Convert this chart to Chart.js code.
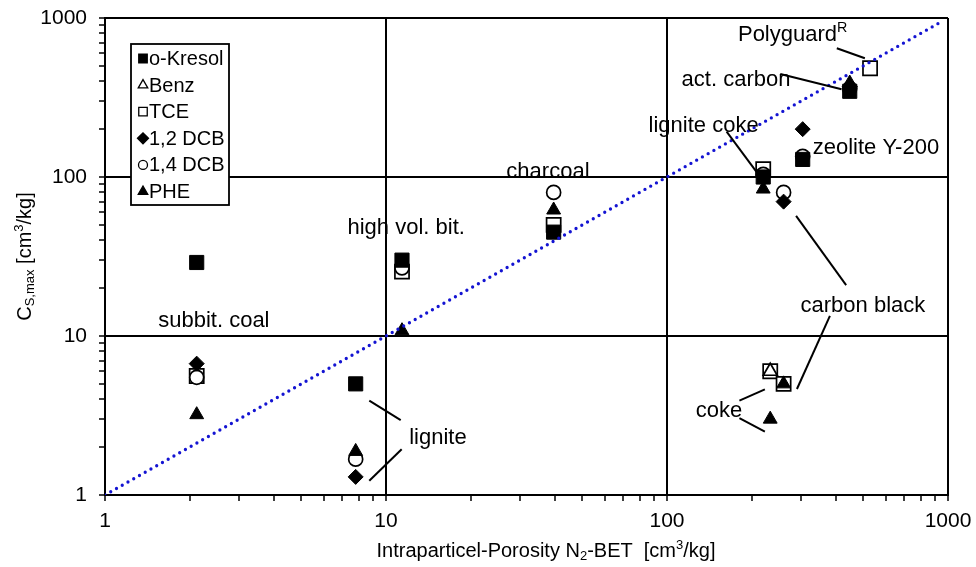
<!DOCTYPE html>
<html>
<head>
<meta charset="utf-8">
<script src="https://cdn.jsdelivr.net/npm/chart.js@4"></script>
<style>
  html, body { margin: 0; padding: 0; background: #fff; }
  canvas { display: block; }
</style>
</head>
<body>
<canvas id="chart" width="976" height="567"></canvas>
<script>
// Sorbent materials and their intraparticle porosity (N2-BET, cm3/kg)
const materials = ['subbit. coal', 'lignite', 'high vol. bit.', 'charcoal', 'lignite coke',
                   'coke', 'carbon black', 'zeolite Y-200', 'act. carbon', 'Polyguard'];
const porosity  = [2.12, 7.8, 11.4, 39.5, 220, 233, 260, 304, 447, 528];

// Maximum sorption capacity C_S,max (cm3/kg) per sorbate, aligned with materials
const oKresol = [29,   5.0,  30,   45,  100,  null, null, 129,  346,  null];
const benz    = [null, null, null, null, null, 6.0,  null, null, null, null];
const tce     = [5.6,  null, 25.4, 50,  112,  6.0,  5.0,  null, null, 483];
const dcb12   = [6.7,  1.3,  null, null, null, null, 70,   200,  370,  null];
const dcb14   = [5.5,  1.68, 26.8, 80,  104,  null, 80,   135,  360,  null];
const phe     = [3.2,  1.88, 10.8, 62,  84,   3.0,  5.0,  null, 390,  null];

// 1:1 reference line end points (x = y)
const parityLine = [1, 960];

// Decade tick labels shared by both log axes
const axisTicks = [1, 10, 100, 1000];

const FONT = '"Liberation Sans", Arial, Helvetica, sans-serif';

function toPoints(values) {
  const pts = [];
  materials.forEach((m, i) => {
    if (values[i] !== null) pts.push({ x: porosity[i], y: values[i] });
  });
  return pts;
}

function isDecade(v) {
  if (!(v > 0)) return false;
  const l = Math.log10(v);
  return Math.abs(l - Math.round(l)) < 1e-9;
}

// minor ticks 1..9 in every decade
function logTicks() {
  const out = [];
  for (let d = 0; d < axisTicks.length - 1; d++) {
    for (let m = 1; m <= 9; m++) out.push(axisTicks[d] * m);
  }
  out.push(axisTicks[axisTicks.length - 1]);
  return out.map(v => ({ value: v, major: isDecade(v) }));
}

const marker = (label, values, style, filled, radius, order) => ({
  label,
  data: toPoints(values),
  pointStyle: style,
  pointRadius: radius,
  pointHoverRadius: radius,
  pointBackgroundColor: filled ? '#000' : '#fff',
  pointBorderColor: '#000',
  pointBorderWidth: filled ? 1 : 1.7,
  showLine: false,
  order,
  legendMarker: true
});

const datasets = [
  marker('o-Kresol', oKresol, 'rect', true, 10, 2),
  marker('Benz', benz, 'triangle', false, 8, 1),
  marker('TCE', tce, 'rect', false, 10, 5),
  marker('1,2 DCB', dcb12, 'rectRot', true, 7.5, 3),
  marker('1,4 DCB', dcb14, 'circle', false, 7, 4),
  marker('PHE', phe, 'triangle', true, 8, 0),
  {
    label: '1:1',
    data: parityLine.map(v => ({ x: v, y: v })),
    showLine: true,
    borderColor: '#1414d2',
    borderWidth: 3.3,
    borderDash: [0, 6.6],
    borderCapStyle: 'round',
    pointRadius: 0,
    pointHoverRadius: 0,
    fill: false,
    order: -1,
    legendMarker: false
  }
];

// Material labels (data coordinates)
const labelTexts = [
  { parts: [{ t: 'subbit. coal' }], x: 2.44, y: 12.4 },
  { parts: [{ t: 'high vol. bit.' }], x: 11.8, y: 47.8 },
  { parts: [{ t: 'charcoal' }], x: 37.7, y: 107 },
  { parts: [{ t: 'lignite' }], x: 15.3, y: 2.28 },
  { parts: [{ t: 'lignite coke' }], x: 135, y: 209 },
  { parts: [{ t: 'act. carbon' }], x: 176, y: 407 },
  { parts: [{ t: 'Polyguard' }, { t: 'R', sup: true }], x: 280, y: 782 },
  { parts: [{ t: 'zeolite Y-200' }], x: 554, y: 152 },
  { parts: [{ t: 'carbon black' }], x: 498, y: 15.4 },
  { parts: [{ t: 'coke' }], x: 153, y: 3.38 }
];

// Leader lines from labels to their points (data coordinates)
const leaderLines = [
  [[8.72, 3.92], [11.28, 2.96]],
  [[8.72, 1.23], [11.37, 1.94]],
  [[163, 193], [214, 101]],
  [[253, 444], [418, 356]],
  [[402, 645], [506, 558]],
  [[288, 56.9], [434, 20.9]],
  [[380, 13.4], [290, 4.64]],
  [[181, 3.92], [223, 4.62]],
  [[181, 3.04], [223, 2.50]]
];

function richWidth(ctx, parts, size) {
  let w = 0;
  parts.forEach(p => {
    const s = (p.sub || p.sup) ? size * 0.65 : size;
    ctx.font = s + 'px ' + FONT;
    w += ctx.measureText(p.t).width;
  });
  return w;
}

function drawRich(ctx, parts, cx, cy, size) {
  const w = richWidth(ctx, parts, size);
  let x = cx - w / 2;
  ctx.textAlign = 'left';
  ctx.textBaseline = 'middle';
  parts.forEach(p => {
    const small = p.sub || p.sup;
    const s = small ? size * 0.65 : size;
    ctx.font = s + 'px ' + FONT;
    let dy = 0;
    if (p.sub) dy = size * 0.28;
    if (p.sup) dy = -size * 0.3;
    ctx.fillText(p.t, x, cy + dy);
    x += ctx.measureText(p.t).width;
  });
}

const overlay = {
  id: 'overlay',
  afterDraw(chart) {
    const ctx = chart.ctx;
    const xs = chart.scales.x, ys = chart.scales.y;
    ctx.save();
    ctx.fillStyle = '#000';
    ctx.strokeStyle = '#000';

    // leader lines
    ctx.lineWidth = 2;
    ctx.lineCap = 'butt';
    leaderLines.forEach(([a, b]) => {
      ctx.beginPath();
      ctx.moveTo(xs.getPixelForValue(a[0]), ys.getPixelForValue(a[1]));
      ctx.lineTo(xs.getPixelForValue(b[0]), ys.getPixelForValue(b[1]));
      ctx.stroke();
    });

    // material labels
    labelTexts.forEach(l => {
      drawRich(ctx, l.parts, xs.getPixelForValue(l.x), ys.getPixelForValue(l.y), 22);
    });

    // axis titles
    const area = chart.chartArea;
    drawRich(ctx, [{ t: 'Intraparticel-Porosity N' }, { t: '2', sub: true },
                   { t: '-BET  [cm' }, { t: '3', sup: true }, { t: '/kg]' }],
             546, 551, 20);
    ctx.save();
    ctx.translate(25, (area.top + area.bottom) / 2);
    ctx.rotate(-Math.PI / 2);
    drawRich(ctx, [{ t: 'C' }, { t: 'S,max', sub: true }, { t: ' [cm' }, { t: '3', sup: true }, { t: '/kg]' }],
             0, 0, 20);
    ctx.restore();

    // legend box
    const bx = 131, by = 44, bw = 98, bh = 161;
    ctx.fillStyle = '#fff';
    ctx.fillRect(bx, by, bw, bh);
    ctx.lineWidth = 1.8;
    ctx.strokeRect(bx, by, bw, bh);
    const items = chart.data.datasets.filter(d => d.legendMarker);
    const legendRadius = { rect: 6, triangle: 5.5, rectRot: 5.5, circle: 4.5 };
    items.forEach((d, i) => {
      const cy = by + 14.5 + i * 26.6;
      ctx.fillStyle = d.pointBackgroundColor;
      ctx.strokeStyle = '#000';
      ctx.lineWidth = 1.3;
      Chart.helpers.drawPoint(ctx, {
        pointStyle: d.pointStyle,
        radius: legendRadius[d.pointStyle],
        rotation: 0,
        borderWidth: 1.3
      }, 143, cy);
      ctx.fillStyle = '#000';
      ctx.font = '20px ' + FONT;
      ctx.textAlign = 'left';
      ctx.textBaseline = 'middle';
      ctx.fillText(d.label, 149, cy + 1);
    });
    ctx.restore();
  }
};

const axis = (position, padding, size) => ({
  type: 'logarithmic',
  position,
  min: 1,
  max: 1000,
  border: { display: true, color: '#000', width: 2 },
  grid: {
    color: c => (c.tick && c.tick.major) ? '#000' : 'rgba(0,0,0,0)',
    lineWidth: 2,
    tickColor: '#000',
    tickWidth: 1.5,
    tickLength: 6,
    drawOnChartArea: true
  },
  afterBuildTicks: s => { s.ticks = logTicks(); },
  ticks: {
    autoSkip: false,
    maxRotation: 0,
    minRotation: 0,
    padding,
    color: '#000',
    font: { family: FONT, size: 21 },
    callback: v => axisTicks.includes(v) ? String(v) : ''
  },
  afterFit: s => {
    if (position === 'bottom') s.height = size; else s.width = size;
    // let the layout padding alone decide the plot frame
    s.paddingTop = 0;
    s.paddingBottom = 0;
    s.paddingLeft = 0;
    s.paddingRight = 0;
  }
});

new Chart(document.getElementById('chart'), {
  type: 'scatter',
  data: { datasets },
  options: {
    responsive: false,
    animation: false,
    devicePixelRatio: 1,
    layout: { padding: { left: 0, top: 18, right: 28, bottom: 0 } },
    plugins: {
      legend: { display: false },
      tooltip: { enabled: false }
    },
    scales: {
      x: axis('bottom', 8, 72),
      y: axis('left', 12, 105)
    }
  },
  plugins: [overlay]
});
</script>
</body>
</html>
